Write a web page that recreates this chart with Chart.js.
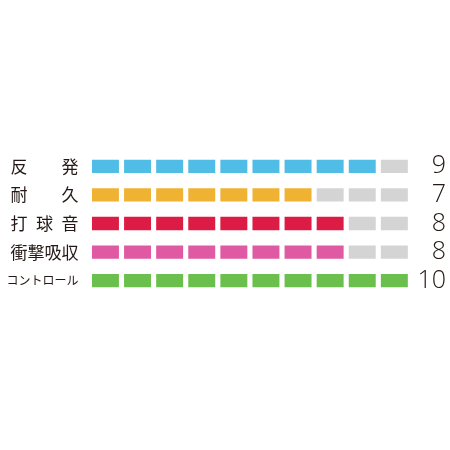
<!DOCTYPE html>
<html>
<head>
<meta charset="utf-8">
<script src="https://cdn.jsdelivr.net/npm/chart.js@4"></script>
<style>
  html, body { margin: 0; padding: 0; background: #fff; }
  #wrap { width: 450px; height: 450px; }
</style>
</head>
<body>
<div id="wrap"><canvas id="rating"></canvas></div>
<script>
// performance ratings, 10 steps each
var categories = ["反\u3000\u3000発", "耐\u3000\u3000久", "打\u2002球\u2002音", "衝撃吸収", "コントロール"];
var values = [9, 7, 8, 8, 10];
var colors = ["#4fbde6", "#f0b232", "#dd1c45", "#df5aa3", "#6bbf4c"];
var steps = 10;
var emptyColor = "#d4d4d4";

var datasets = [];
for (var i = 0; i < steps; i++) {
  datasets.push({
    label: "step " + (i + 1),
    data: categories.map(function () { return [i + 0.08, i + 0.92]; }),
    backgroundColor: (function (step) {
      return function (ctx) {
        return step < values[ctx.dataIndex] ? colors[ctx.dataIndex] : emptyColor;
      };
    })(i),
    borderWidth: 0,
    grouped: false,
    categoryPercentage: 1,
    barPercentage: 0.465
  });
}

var ctx = document.getElementById("rating");

var ratingChart = new Chart(ctx, {
  type: "bar",
  data: {
    labels: categories,
    datasets: datasets
  },
  options: {
    indexAxis: "y",
    responsive: true,
    maintainAspectRatio: false,
    animation: false,
    layout: {
      padding: { top: 152, bottom: 155, left: 0, right: 4 }
    },
    plugins: {
      legend: { display: false },
      tooltip: { enabled: false }
    },
    scales: {
      x: {
        display: false,
        min: 0,
        max: steps
      },
      y: {
        position: "left",
        grid: { display: false, drawTicks: false },
        border: { display: false },
        ticks: {
          autoSkip: false,
          padding: 11,
          color: "#231815",
          font: function (c) {
            // the katakana label is squeezed into the same width
            var long = c.index === 4;
            return { family: "'Noto Sans CJK JP'", size: long ? 12 : 17 };
          }
        },
        afterFit: function (scale) { scale.width = 89.4; }
      },
      yR: {
        type: "category",
        position: "right",
        labels: values.map(String),
        offset: true,
        grid: { display: false, drawTicks: false },
        border: { display: false },
        ticks: {
          autoSkip: false,
          crossAlign: "far",
          padding: 0,
          color: "#231815",
          font: { family: "'Open Sans'", size: 25, weight: "300" }
        },
        afterFit: function (scale) { scale.width = 35.6; }
      }
    }
  }
});
</script>
</body>
</html>
